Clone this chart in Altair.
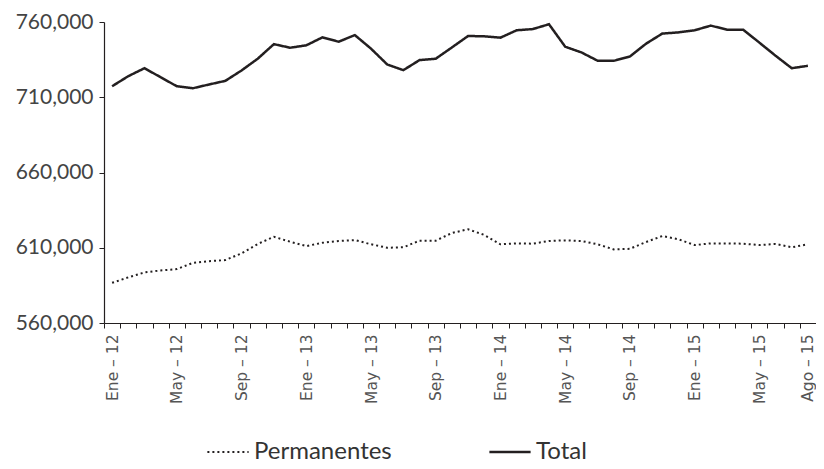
import altair as alt
import pandas as pd

meses = ["Ene", "Feb", "Mar", "Abr", "May", "Jun", "Jul", "Ago", "Sep", "Oct", "Nov", "Dic"]
anios = ["12", "13", "14", "15"]
periodos = [f"{m} – {a}" for a in anios for m in meses][:44]

etiquetas = ["Ene – 12", "May – 12", "Sep – 12", "Ene – 13", "May – 13", "Sep – 13",
             "Ene – 14", "May – 14", "Sep – 14", "Ene – 15", "May – 15", "Ago – 15"]

total = [717300, 724000, 729300, 723300, 717300, 716000, 718500, 720900, 727800, 735600,
         745300, 742900, 744500, 749800, 746900, 751300, 742300, 731800, 728000, 734700,
         735600, 743100, 750700, 750500, 749600, 754500, 755300, 758500, 743600, 739800,
         734300, 734200, 737100, 745600, 752300, 753100, 754500, 757600, 754900, 754900,
         746300, 737600, 729300, 730900]

permanentes = [586700, 590300, 593600, 594900, 595800, 600000, 601100, 601800, 606300, 612500,
               617300, 614000, 611100, 613300, 614500, 615100, 612300, 610000, 610300, 614700,
               614700, 619800, 622300, 618500, 612300, 612900, 612700, 614500, 614900, 614500,
               612300, 608900, 609300, 613800, 617800, 615600, 611800, 612900, 612900, 612700,
               611800, 612500, 610300, 612300]

series = ["Permanentes", "Total"]

rows = []
for i, p in enumerate(periodos):
    rows.append({"periodo": p, "serie": "Permanentes", "valor": permanentes[i]})
    rows.append({"periodo": p, "serie": "Total", "valor": total[i]})
df = pd.DataFrame(rows)

lista = "[" + ",".join(f"'{e}'" for e in etiquetas) + "]"

chart = alt.Chart(df).mark_line(color="#231f20").encode(
    x=alt.X("periodo:N", sort=periodos, bandPosition=0.5,
            scale=alt.Scale(type="band", paddingInner=0, paddingOuter=0),
            axis=alt.Axis(title=None, labelAngle=270, tickBand="extent",
                          labelExpr=f"indexof({lista}, datum.value) >= 0 ? datum.value : ''",
                          labelOverlap=False, labelFont="DejaVu Sans", labelFontSize=15.5,
                          labelColor="#555555", labelPadding=6, tickSize=5,
                          tickColor="#231f20", domainColor="#231f20", domainWidth=1.2)),
    y=alt.Y("valor:Q", scale=alt.Scale(domain=[560000, 760000], nice=False, zero=False),
            axis=alt.Axis(title=None, values=[560000, 610000, 660000, 710000, 760000],
                          format=",d", grid=False, labelFont="Lato", labelFontSize=21,
                          labelColor="#444444", labelPadding=6, tickSize=5,
                          tickColor="#231f20", domainColor="#231f20", domainWidth=1.2)),
    strokeDash=alt.StrokeDash("serie:N", scale=alt.Scale(domain=series, range=[[2, 3], [1, 0]]),
                              legend=alt.Legend(title=None, orient="none", direction="horizontal",
                                                legendX=102, legendY=408, symbolType="stroke",
                                                symbolSize=1700, symbolStrokeColor="#231f20",
                                                symbolStrokeWidth=2.3, labelFont="Lato",
                                                labelFontSize=24, labelColor="#333333",
                                                labelOffset=4, columnPadding=92, padding=0)),
    strokeWidth=alt.StrokeWidth("serie:N", scale=alt.Scale(domain=series, range=[2, 2.5]), legend=None),
).properties(
    width=712, height=301, autosize="none",
    padding={"left": 96, "top": 14, "right": 0, "bottom": 146},
).configure_view(stroke=None)

chart.save("out.html", embed_options={"renderer": "svg", "actions": False})
